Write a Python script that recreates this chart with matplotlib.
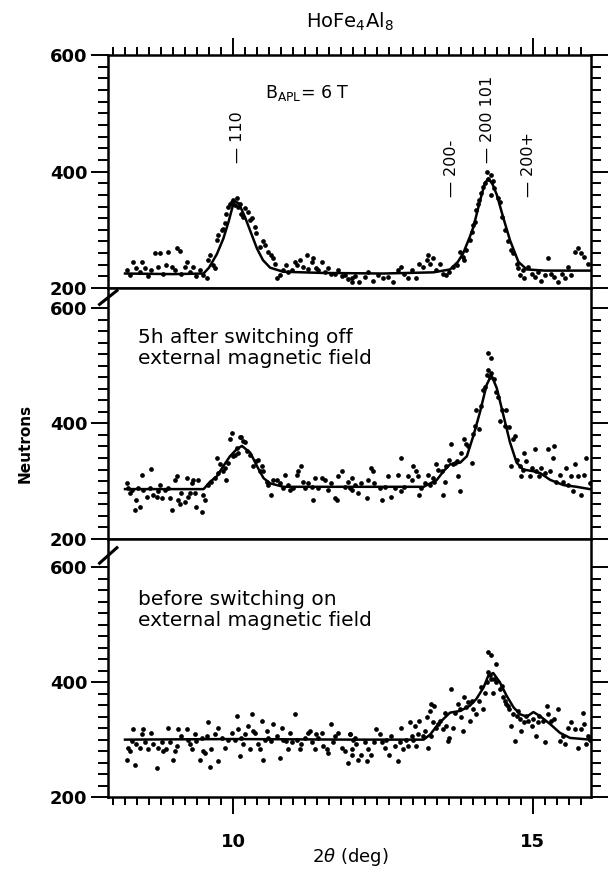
import numpy as np
import matplotlib
matplotlib.use('Agg')
import matplotlib.pyplot as plt
from matplotlib.ticker import FixedLocator, NullFormatter
from matplotlib.transforms import blended_transform_factory

# ---- data: 2theta (deg), neutron counts ----
# panel 1: B_APL = 6 T
p1_x = [8.23, 8.28, 8.34, 8.39, 8.45, 8.48, 8.53, 8.59, 8.64, 8.70, 8.75, 8.78, 8.84, 8.89, 8.92, 8.98,
        9.03, 9.06, 9.11, 9.14, 9.20, 9.23, 9.28, 9.34, 9.39, 9.45, 9.50, 9.56, 9.59, 9.61, 9.67, 9.70,
        9.73, 9.75, 9.81, 9.84, 9.86, 9.89, 9.92, 9.95, 9.98, 10.00, 10.06, 10.03, 10.09, 10.11, 10.14,
        10.17, 10.20, 10.25, 10.28, 10.31, 10.36, 10.39, 10.45, 10.50, 10.53, 10.59, 10.64, 10.67, 10.70,
        10.73, 10.78, 10.84, 10.89, 10.92, 10.98, 11.03, 11.06, 11.11, 11.17, 11.23, 11.25, 11.31, 11.34,
        11.39, 11.42, 11.48, 11.53, 11.59, 11.64, 11.70, 11.75, 11.81, 11.86, 11.92, 11.98,
        11.98, 12.03, 12.11, 12.20, 12.25, 12.34, 12.42, 12.50, 12.59, 12.67, 12.75, 12.81, 12.86, 12.92,
        12.98, 13.06, 13.11, 13.17, 13.23, 13.25, 13.28, 13.34, 13.39, 13.45, 13.50, 13.56, 13.61, 13.67,
        13.73, 13.78, 13.84, 13.86, 13.89, 13.95, 13.98, 14.00, 14.03, 14.06, 14.09, 14.11, 14.14, 14.17,
        14.20, 14.23, 14.25, 14.31, 14.34, 14.31, 14.36, 14.42, 14.45, 14.48, 14.53, 14.59, 14.64, 14.67,
        14.73, 14.75, 14.78, 14.84, 14.86, 14.92, 14.98, 15.03, 15.09, 15.14, 15.20, 15.25, 15.31, 15.36,
        15.42, 15.48, 15.53, 15.59, 15.64, 15.70, 15.75, 15.81, 15.86, 15.92]
p1_y = [231, 222, 245, 234, 228, 245, 234, 220, 231, 260, 237, 261, 225, 240, 262, 236,
        231, 268, 264, 225, 236, 244, 228, 237, 220, 231, 222, 217, 248, 257, 240, 234,
        282, 291, 300, 302, 311, 328, 340, 345, 348, 351, 354, 343, 340, 345, 328,
        322, 337, 331, 317, 320, 305, 294, 271, 280, 274, 262, 257, 251, 242,
        217, 222, 231, 240, 228, 231, 244, 240, 248, 237, 257, 232, 245, 251,
        234, 231, 245, 228, 234, 225, 225, 231, 220, 222, 215, 217,
        211, 221, 211, 219, 228, 213, 222, 217, 219, 211, 231, 237, 225, 217,
        231, 217, 242, 237, 248, 257, 242, 251, 231, 242, 225, 222, 228, 237,
        240, 262, 254, 248, 265, 282, 297, 308, 314, 334, 345, 351, 363, 374,
        380, 400, 388, 394, 383, 360, 371, 354, 348, 322, 300, 280, 265, 260,
        242, 234, 222, 231, 217, 237, 225, 219, 228, 213, 222, 251, 225, 219,
        211, 225, 217, 237, 222, 262, 268, 260, 254, 242]
p1_fit_x = [8.20, 9.00, 9.51, 9.60, 9.73, 9.84, 9.93, 10.02, 10.10, 10.20, 10.30, 10.40, 10.50, 10.62,
            10.84, 11.50, 12.50, 13.34, 13.62, 13.75, 13.84, 13.95, 14.01, 14.12, 14.20, 14.26, 14.33,
            14.40, 14.51, 14.62, 14.76, 14.90, 15.20, 15.95]
p1_fit_y = [225, 224, 225, 235, 258, 285, 315, 350, 345, 322, 295, 268, 248, 235,
            228, 226, 225, 227, 232, 245, 260, 288, 305, 350, 380, 388, 378,
            360, 320, 282, 245, 232, 230, 230]

# panel 2: 5 h after switching off the field
p2_x = [8.23, 8.25, 8.28, 8.31, 8.36, 8.39, 8.42, 8.45, 8.48, 8.50, 8.56, 8.61, 8.64, 8.67, 8.73, 8.75,
        8.78, 8.81, 8.86, 8.92, 8.95, 8.98, 9.03, 9.06, 9.09, 9.11, 9.14, 9.20, 9.23, 9.25, 9.28, 9.31,
        9.34, 9.36, 9.39, 9.42, 9.48, 9.50, 9.53, 9.59, 9.64, 9.70, 9.73, 9.75, 9.78, 9.84, 9.86, 9.89,
        9.92, 9.95, 9.98, 10.00, 10.03, 10.06, 10.09, 10.11, 10.14, 10.17, 10.20, 10.23, 10.28, 10.34,
        10.39, 10.42, 10.45, 10.48, 10.50, 10.56, 10.59, 10.64, 10.67, 10.73, 10.78, 10.84, 10.86, 10.92,
        10.95, 11.00, 11.06, 11.09, 11.14, 11.17, 11.20, 11.25, 11.31, 11.34, 11.36, 11.42, 11.48, 11.53,
        11.59, 11.64, 11.70, 11.73, 11.75, 11.81, 11.86, 11.92, 11.98,
        11.95, 11.98, 12.03, 12.09, 12.14, 12.23, 12.25, 12.31, 12.34, 12.36, 12.45, 12.48, 12.53, 12.59,
        12.64, 12.70, 12.75, 12.81, 12.81, 12.86, 12.92, 12.98, 13.00, 13.06, 13.09, 13.11, 13.14, 13.20,
        13.25, 13.28, 13.34, 13.36, 13.39, 13.42, 13.48, 13.50, 13.53, 13.56, 13.61, 13.64, 13.67, 13.70,
        13.73, 13.75, 13.78, 13.81, 13.86, 13.89, 13.92, 13.98, 14.00, 14.03, 14.06, 14.11, 14.14, 14.17,
        14.20, 14.23, 14.25, 14.28, 14.31, 14.36, 14.39, 14.25, 14.31, 14.42, 14.45, 14.48, 14.53, 14.56,
        14.61, 14.64, 14.67, 14.70, 14.73, 14.78, 14.81, 14.84, 14.86, 14.89, 14.95, 14.98, 15.03, 15.06,
        15.11, 15.14, 15.20, 15.25, 15.28, 15.34, 15.36, 15.39, 15.45, 15.50, 15.56, 15.59, 15.64, 15.67,
        15.70, 15.75, 15.81, 15.86, 15.89, 15.95]
p2_y = [296, 288, 279, 285, 249, 267, 288, 255, 311, 285, 273, 288, 321, 276, 273, 282,
        293, 270, 285, 288, 270, 249, 302, 309, 267, 261, 279, 264, 305, 273, 279, 296,
        302, 279, 255, 302, 246, 276, 267, 293, 299, 305, 340, 314, 329, 317, 323, 302,
        332, 373, 384, 343, 346, 358, 349, 376, 376, 370, 367, 352, 346, 326,
        335, 337, 317, 326, 317, 299, 293, 276, 302, 302, 296, 288, 311, 293,
        285, 288, 311, 317, 326, 299, 288, 296, 290, 267, 305, 288, 305, 302,
        285, 296, 270, 267, 308, 317, 290, 299, 285,
        288, 305, 293, 279, 296, 270, 302, 323, 317, 296, 288, 267, 290, 308,
        273, 288, 311, 282, 340, 290, 308, 302, 326, 317, 308, 276, 288, 296,
        311, 293, 305, 299, 329, 320, 317, 276, 299, 326, 337, 364, 329, 332,
        334, 308, 282, 349, 373, 364, 361, 332, 381, 396, 423, 390, 431, 458,
        464, 484, 493, 481, 487, 478, 455, 522, 514, 446, 405, 423, 396, 423,
        393, 326, 373, 379, 337, 326, 308, 320, 349, 334, 308, 323, 355, 317,
        308, 323, 314, 355, 317, 340, 361, 299, 311, 299, 323, 293, 308, 282,
        329, 308, 276, 311, 340, 296]
p2_fit_x = [8.20, 9.51, 9.62, 9.73, 9.84, 9.95, 10.06, 10.15, 10.29, 10.40, 10.51, 10.62, 10.84, 12.00,
            13.18, 13.40, 13.51, 13.62, 13.79, 13.90, 14.01, 14.12, 14.23, 14.31, 14.40, 14.51, 14.62,
            14.73, 14.84, 15.01, 15.12, 15.29, 15.51, 15.73, 15.95]
p2_fit_y = [286, 286, 299, 308, 326, 343, 355, 361, 349, 326, 305, 296, 290, 290,
            290, 302, 317, 329, 332, 343, 379, 420, 467, 484, 461, 414, 367,
            332, 320, 317, 314, 302, 293, 290, 286]

# panel 3: before switching on the field
p3_x = [8.23, 8.25, 8.28, 8.31, 8.34, 8.36, 8.39, 8.45, 8.48, 8.50, 8.53, 8.59, 8.64, 8.67, 8.73, 8.75,
        8.81, 8.84, 8.89, 8.92, 8.95, 9.00, 9.03, 9.06, 9.09, 9.14, 9.23, 9.25, 9.28, 9.31, 9.36, 9.39,
        9.45, 9.48, 9.50, 9.53, 9.56, 9.59, 9.61, 9.64, 9.70, 9.75, 9.75, 9.81, 9.86, 9.92, 9.98, 10.03,
        10.06, 10.09, 10.11, 10.14, 10.17, 10.20, 10.25, 10.28, 10.31, 10.34, 10.36, 10.42, 10.45, 10.48,
        10.50, 10.53, 10.56, 10.59, 10.64, 10.67, 10.73, 10.78, 10.81, 10.84, 10.89, 10.92, 10.95, 10.98,
        11.03, 11.06, 11.11, 11.14, 11.20, 11.25, 11.28, 11.31, 11.36, 11.39, 11.42, 11.48, 11.50, 11.56,
        11.59, 11.64, 11.67, 11.70, 11.75, 11.81, 11.86, 11.92, 11.95, 11.98,
        11.95, 11.98, 12.00, 12.03, 12.06, 12.09, 12.14, 12.20, 12.23, 12.25, 12.31, 12.36, 12.39, 12.45,
        12.48, 12.53, 12.56, 12.61, 12.64, 12.70, 12.75, 12.78, 12.81, 12.84, 12.89, 12.92, 12.95, 12.98,
        13.00, 13.03, 13.06, 13.09, 13.11, 13.17, 13.20, 13.23, 13.25, 13.28, 13.31, 13.31, 13.34, 13.36,
        13.39, 13.42, 13.45, 13.50, 13.53, 13.56, 13.59, 13.61, 13.64, 13.67, 13.70, 13.75, 13.78, 13.81,
        13.84, 13.86, 13.89, 13.92, 13.95, 13.98, 14.00, 14.06, 14.11, 14.14, 14.17, 14.20, 14.23, 14.25,
        14.28, 14.31, 14.34, 14.36, 14.25, 14.31, 14.39, 14.39, 14.45, 14.48, 14.50, 14.53, 14.56, 14.59,
        14.61, 14.64, 14.67, 14.70, 14.73, 14.75, 14.78, 14.81, 14.86, 14.89, 14.92, 14.98, 15.00, 15.06,
        15.09, 15.11, 15.17, 15.20, 15.23, 15.25, 15.31, 15.36, 15.42, 15.45, 15.50, 15.53, 15.59, 15.64,
        15.70, 15.75, 15.81, 15.84, 15.86, 15.89, 15.92, 15.95]
p3_y = [265, 286, 280, 297, 318, 256, 292, 286, 309, 318, 295, 283, 312, 292, 250, 286,
        295, 280, 283, 321, 295, 265, 280, 289, 318, 306, 318, 300, 292, 283, 309, 297,
        265, 303, 280, 277, 306, 331, 253, 283, 309, 321, 262, 303, 286, 300, 312, 300,
        341, 318, 272, 303, 292, 309, 324, 283, 344, 315, 312, 292, 283, 333,
        265, 300, 315, 303, 297, 327, 306, 268, 321, 300, 297, 283, 312, 295,
        344, 300, 283, 292, 303, 312, 315, 295, 283, 309, 303, 312, 289, 283,
        277, 327, 295, 306, 312, 286, 280, 259, 309, 274,
        309, 283, 300, 303, 292, 265, 274, 295, 262, 283, 274, 295, 318, 309,
        295, 286, 300, 274, 306, 289, 262, 295, 321, 283, 300, 289, 330, 306,
        300, 324, 289, 309, 333, 306, 315, 339, 286, 350, 362, 306, 330, 359,
        321, 327, 333, 318, 347, 324, 297, 303, 388, 321, 347, 362, 353, 339,
        315, 374, 356, 365, 333, 368, 353, 344, 368, 391, 353, 382, 400, 418,
        412, 406, 382, 406, 453, 447, 432, 400, 388, 394, 374, 368, 362, 359,
        353, 324, 344, 297, 341, 350, 336, 315, 330, 341, 333, 324, 336, 306,
        330, 341, 333, 295, 359, 344, 333, 336, 353, 297, 306, 292, 321, 330,
        318, 286, 318, 347, 327, 292, 306, 300]
p3_fit_x = [8.20, 10.00, 12.00, 13.18, 13.29, 13.40, 13.51, 13.62, 13.79, 13.95, 14.06, 14.18, 14.26,
            14.34, 14.45, 14.56, 14.68, 14.79, 14.90, 15.01, 15.12, 15.29, 15.45, 15.62, 15.95]
p3_fit_y = [300, 301, 300, 300, 309, 324, 336, 347, 350, 359, 371, 391, 412,
            416, 400, 377, 356, 344, 340, 348, 341, 327, 312, 303, 300]

panel_x = [p1_x, p2_x, p3_x]
panel_y = [p1_y, p2_y, p3_y]
fit_x = [p1_fit_x, p2_fit_x, p3_fit_x]
fit_y = [p1_fit_y, p2_fit_y, p3_fit_y]
y_tops = [600, 635, 650]
panel_notes = [None,
               '5h after switching off\nexternal magnetic field',
               'before switching on\nexternal magnetic field']

peak_labels = ['110', '200-', '200 101', '200+']
peak_pos = [10.07, 13.65, 14.24, 14.92]
peak_base = [0.535, 0.39, 0.535, 0.39]


def main():
    fig = plt.figure(figsize=(6.08, 8.73), dpi=100)
    left, width = 0.178, 0.794
    boxes = [(0.670, 0.267), (0.383, 0.287), (0.087, 0.296)]
    axes = []
    for i, (bottom, height) in enumerate(boxes):
        ax = fig.add_axes([left, bottom, width, height])
        ax.plot(panel_x[i], panel_y[i], 'o', color='black', ms=3.4, mew=0)
        ax.plot(fit_x[i], fit_y[i], '-', color='black', lw=1.8)
        ax.set_xlim(7.92, 15.97)
        ax.set_ylim(200, y_tops[i])
        for s in ax.spines.values():
            s.set_linewidth(1.8)
        ax.xaxis.set_major_locator(FixedLocator([10, 15]))
        ax.xaxis.set_minor_locator(FixedLocator(np.arange(8.0, 15.95, 0.2)))
        ax.yaxis.set_major_locator(FixedLocator([200, 400, 600]))
        ax.yaxis.set_minor_locator(FixedLocator(np.arange(200, 601, 20)))
        ax.tick_params(axis='x', which='both', direction='out', top=(i == 0), bottom=True, width=1.4)
        ax.tick_params(axis='x', which='major', length=12)
        ax.tick_params(axis='x', which='minor', length=6)
        ax.tick_params(axis='y', which='both', direction='out', left=True, right=True, width=1.4)
        ax.tick_params(axis='y', which='major', length=12, labelsize=13, pad=3)
        ax.tick_params(axis='y', which='minor', length=7)
        for lab in ax.get_yticklabels():
            lab.set_fontweight('bold')
        if i < 2:
            ax.xaxis.set_major_formatter(NullFormatter())
        else:
            ax.tick_params(axis='x', labelsize=13, pad=14)
            for lab in ax.get_xticklabels():
                lab.set_fontweight('bold')
        if panel_notes[i]:
            ax.text(0.062, 0.84 if i == 1 else 0.80, panel_notes[i], transform=ax.transAxes,
                    ha='left', va='top', fontsize=14.5, linespacing=1.1)
        if i > 0:
            # axis break mark on the left spine
            ax.plot([-0.018, 0.018], [0.935, 0.99] if i == 1 else [0.905, 0.965],
                    transform=ax.transAxes, color='black', lw=2.2, clip_on=False)
        axes.append(ax)

    ax = axes[0]
    ax.text(0.325, 0.815, r'B$_{\mathrm{APL}}$= 6 T', transform=ax.transAxes,
            ha='left', va='baseline', fontsize=12.5)
    tr = blended_transform_factory(ax.transData, ax.transAxes)
    for lab, xp, yb in zip(peak_labels, peak_pos, peak_base):
        ax.text(xp, yb, '\u2014 ' + lab, transform=tr, rotation=90,
                ha='center', va='bottom', fontsize=11.5)

    fig.text(0.576, 0.975, r'HoFe$_4$Al$_8$', ha='center', va='center', fontsize=14)
    fig.text(0.576, 0.018, r'2$\theta$ (deg)', ha='center', va='center', fontsize=13)
    fig.text(0.042, 0.492, 'Neutrons', rotation=90, ha='center', va='center',
             fontsize=11, fontweight='bold')

    fig.savefig('out.png', dpi=100)


if __name__ == '__main__':
    main()
